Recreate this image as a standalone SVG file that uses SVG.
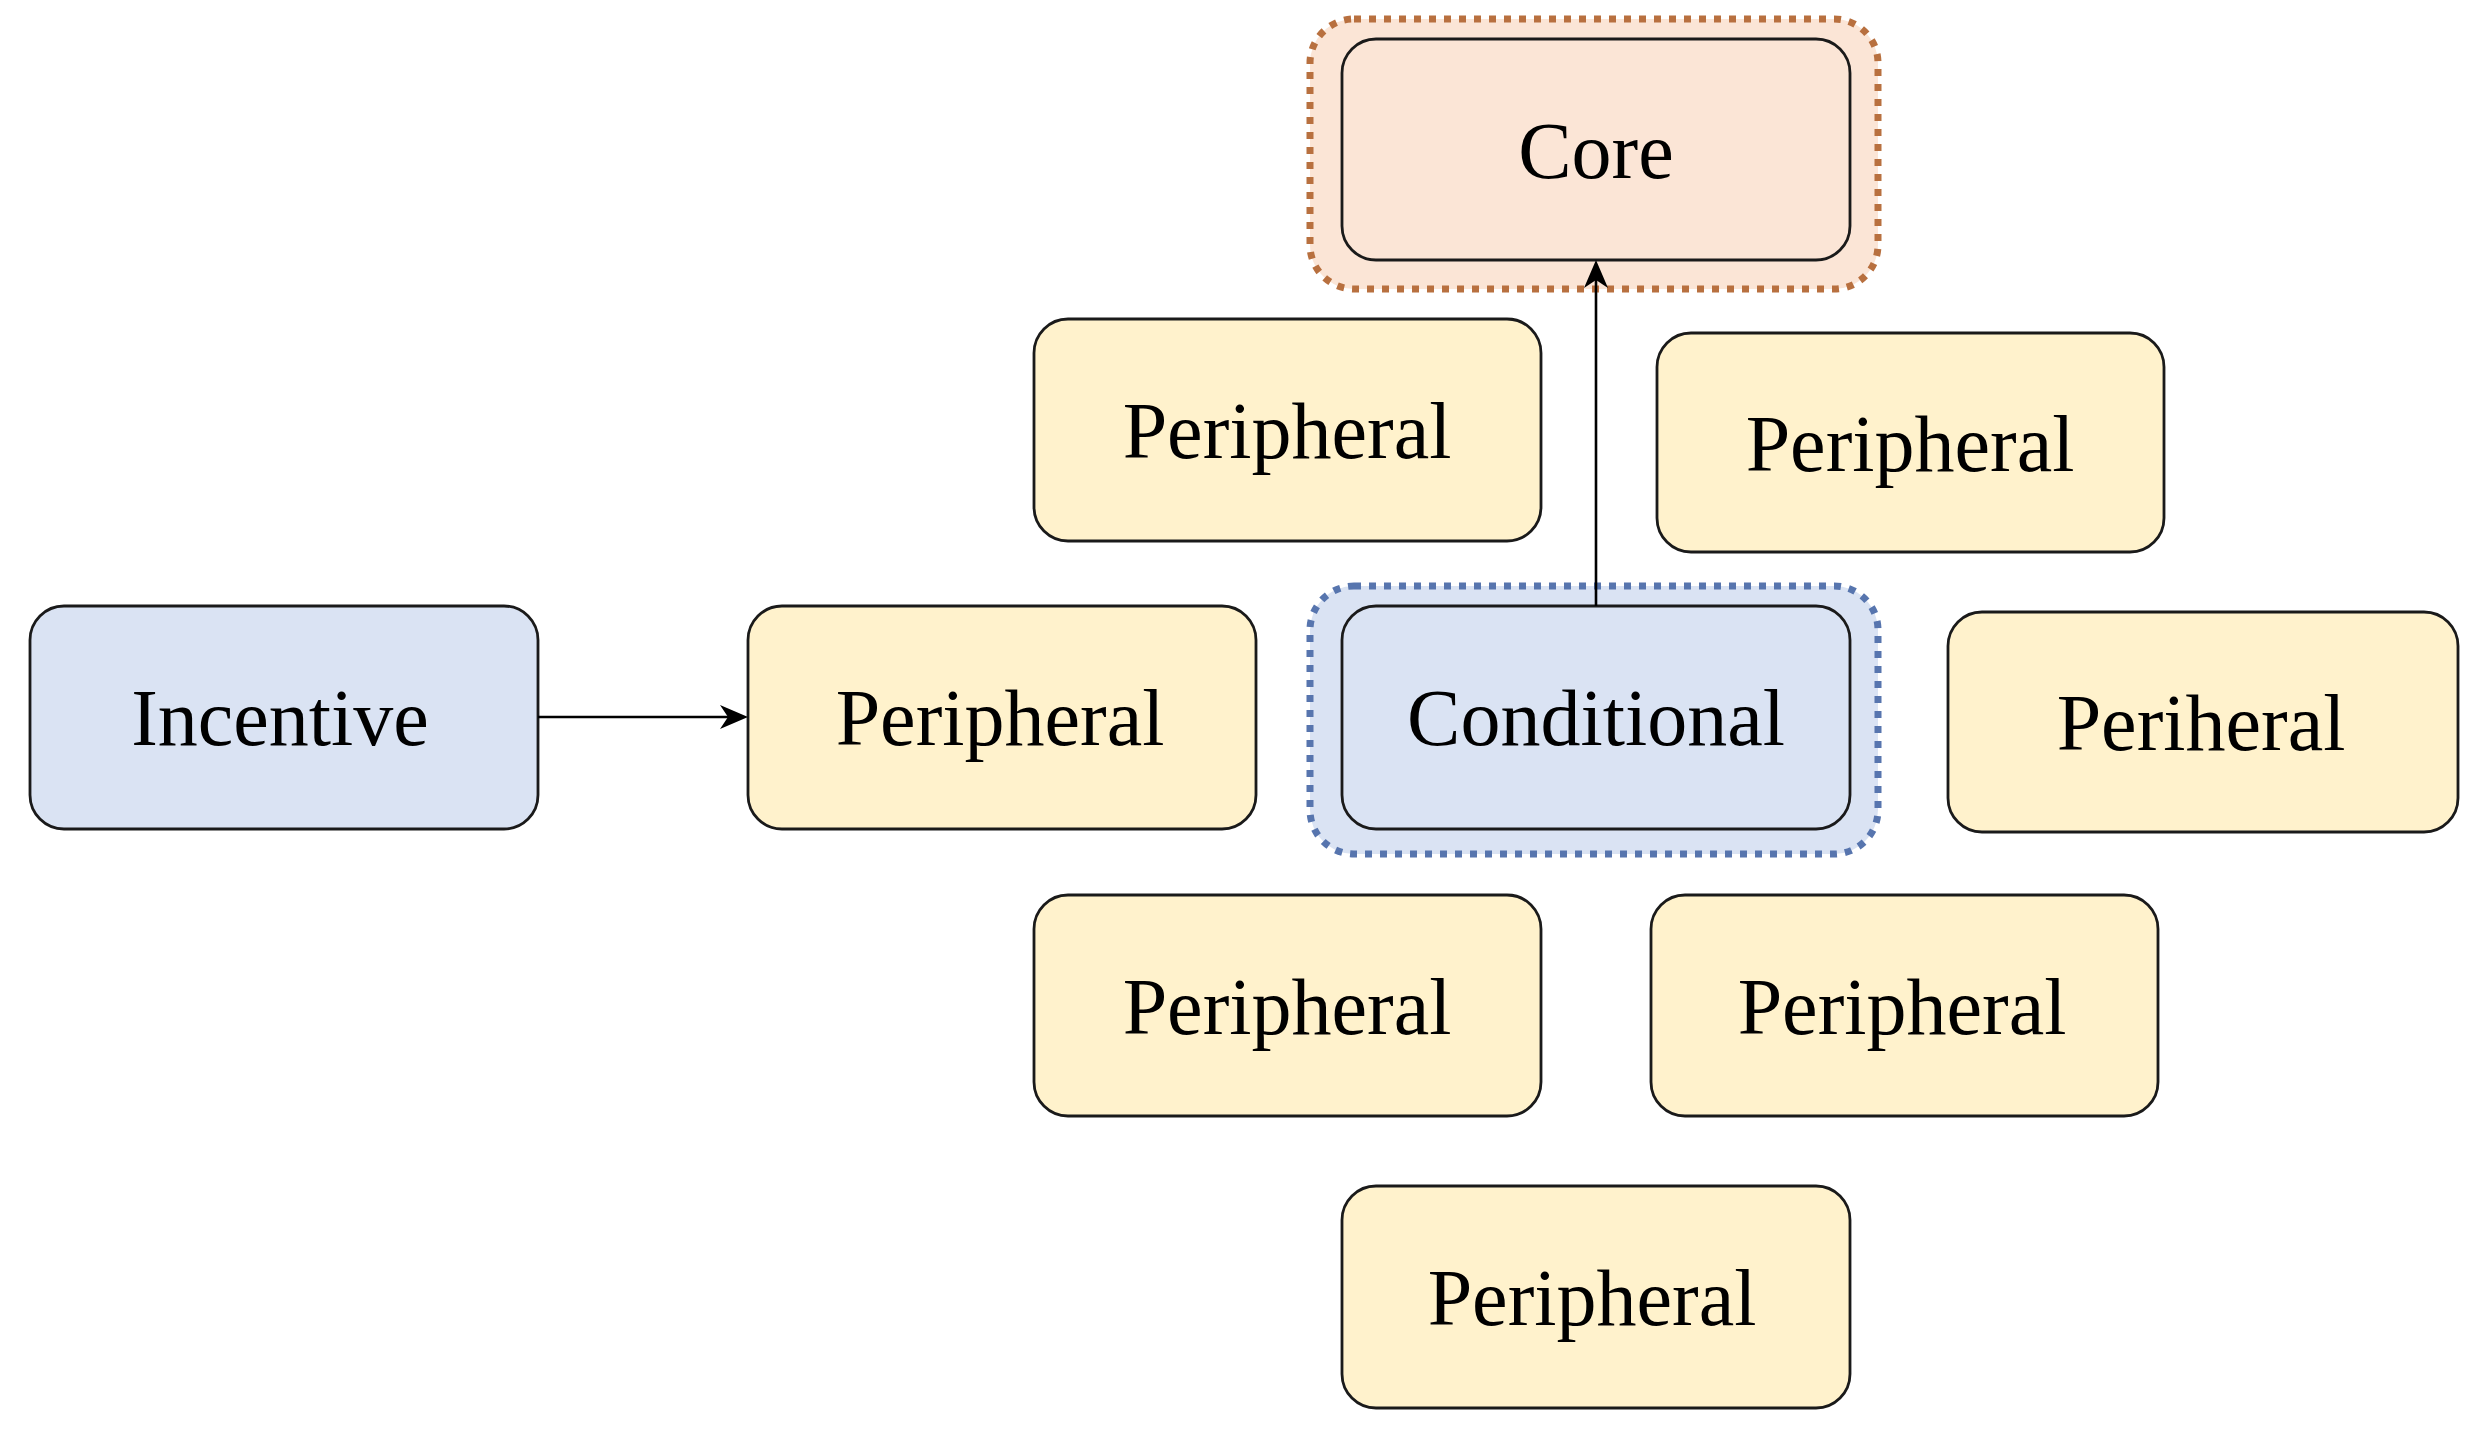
<svg xmlns="http://www.w3.org/2000/svg" width="2475" height="1446" viewBox="0 0 2475 1446">
<style>
.box{stroke:#1a1a1a;stroke-width:2.8}
.y{fill:#FFF2CC}
.b{fill:#DAE3F3}
.o{fill:#FBE5D6}
.halo-o{fill:#FBE5D6;stroke:#B8703F;stroke-width:7;stroke-dasharray:7 8}
.halo-b{fill:#DAE3F3;stroke:#5775AE;stroke-width:7;stroke-dasharray:7 8}
.t{font-family:"Liberation Serif","Times New Roman",serif;font-size:80px;fill:#000;text-anchor:middle}
.edge{stroke:#000;stroke-width:2.6;fill:none}
.head{fill:#000;stroke:none}
</style>
<rect width="2475" height="1446" fill="#ffffff"/>
<g id="core">
<rect class="halo-o" x="1310" y="19" width="568" height="270" rx="44"/>
<rect class="box o" x="1342" y="39" width="508" height="221" rx="34"/>
<text class="t" x="1596" y="178">Core</text>
</g>
<g id="conditional">
<rect class="halo-b" x="1310" y="586" width="568" height="268" rx="44"/>
<rect class="box b" x="1342" y="606" width="508" height="223" rx="34"/>
<text class="t" x="1596" y="745">Conditional</text>
</g>
<g id="incentive">
<rect class="box b" x="30" y="606" width="508" height="223" rx="34"/>
<text class="t" x="280" y="745">Incentive</text>
</g>
<g id="peripheral-mid-left">
<rect class="box y" x="748" y="606" width="508" height="223" rx="34"/>
<text class="t" x="1000" y="745">Peripheral</text>
</g>
<g id="peripheral-top-left">
<rect class="box y" x="1034" y="319" width="507" height="222" rx="34"/>
<text class="t" x="1287" y="458">Peripheral</text>
</g>
<g id="peripheral-top-right">
<rect class="box y" x="1657" y="333" width="507" height="219" rx="34"/>
<text class="t" x="1910" y="471">Peripheral</text>
</g>
<g id="periheral-right">
<rect class="box y" x="1948" y="612" width="510" height="220" rx="34"/>
<text class="t" x="2201" y="750">Periheral</text>
</g>
<g id="peripheral-bottom-left">
<rect class="box y" x="1034" y="895" width="507" height="221" rx="34"/>
<text class="t" x="1287" y="1034">Peripheral</text>
</g>
<g id="peripheral-bottom-right">
<rect class="box y" x="1651" y="895" width="507" height="221" rx="34"/>
<text class="t" x="1902" y="1034">Peripheral</text>
</g>
<g id="peripheral-bottom">
<rect class="box y" x="1342" y="1186" width="508" height="222" rx="34"/>
<text class="t" x="1592" y="1325">Peripheral</text>
</g>
<g id="connectors">
<line class="edge" x1="538" y1="717" x2="730" y2="717"/>
<path class="head" d="M748,717 L720,705 L728,717 L720,729 Z"/>
<line class="edge" x1="1596" y1="606" x2="1596" y2="278"/>
<path class="head" d="M1596,260 L1584,288 L1596,280 L1608,288 Z"/>
</g>
</svg>
